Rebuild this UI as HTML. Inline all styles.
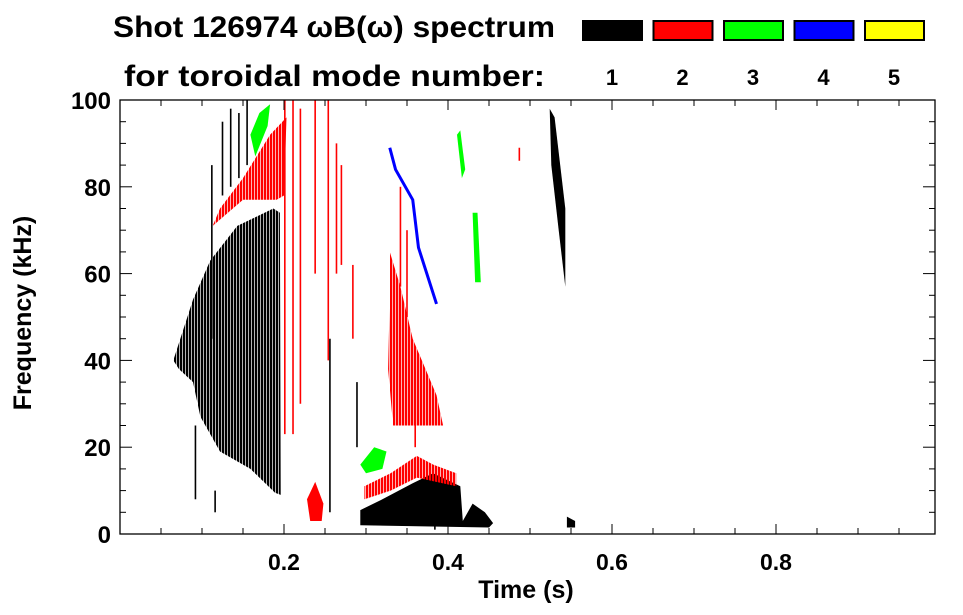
<!DOCTYPE html>
<html><head><meta charset="utf-8"><style>
body{margin:0;background:#fff;}
svg{display:block;font-family:"Liberation Sans",sans-serif;font-weight:bold;}
</style></head><body>
<svg id="chart" width="963" height="615" viewBox="0 0 963 615">
<defs>
<pattern id="pat0" width="3" height="10" patternUnits="userSpaceOnUse"><rect width="2.3" height="10" fill="#000"/></pattern>
<pattern id="pat1" width="3" height="10" patternUnits="userSpaceOnUse"><rect width="2.3" height="10" fill="#f00"/></pattern>
</defs>
<text x="113" y="37" font-size="30" textLength="442" lengthAdjust="spacingAndGlyphs">Shot 126974 ωB(ω) spectrum</text>
<text x="124" y="86" font-size="30" textLength="421" lengthAdjust="spacingAndGlyphs">for toroidal mode number:</text>
<g id="legend"></g>
<g id="marks"></g>
<g id="axes"></g>
</svg>
<script>
const modeLabels=["1","2","3","4","5"];
const modeColors=["#000","#f00","#0f0","#00f","#ff0"];
const xTicks=[0.2,0.4,0.6,0.8];
const yTicks=[0,20,40,60,80,100];
// blobs: mode and outline in [time s, freq kHz]
const blobModes=[0,1,1,0,1,1,2,2,2,2,0,0];
const blobOutlines=[
 [[0.065,40],[0.089,54],[0.11,63],[0.143,71],[0.187,75],[0.195,74],[0.196,9],[0.189,9.5],[0.159,15],[0.122,19],[0.098,27],[0.089,35],[0.072,38]],
 [[0.113,71],[0.15,77],[0.191,77],[0.2,78],[0.203,96],[0.183,92],[0.15,82],[0.122,75]],
 [[0.329,65],[0.342,57],[0.357,45],[0.386,32],[0.394,25],[0.333,25],[0.327,38],[0.329,55]],
 [[0.293,5.5],[0.32,8],[0.357,11.7],[0.382,14],[0.415,11],[0.418,3],[0.43,7],[0.445,5],[0.455,2.5],[0.45,1.5],[0.293,2]],
 [[0.298,11],[0.33,14],[0.362,18],[0.382,16],[0.41,14],[0.41,11],[0.362,13],[0.33,10],[0.298,8]],
 [[0.228,8],[0.238,12],[0.248,7],[0.246,3],[0.232,3]],
 [[0.159,92],[0.17,97],[0.183,99],[0.18,94],[0.165,87]],
 [[0.411,92],[0.415,93],[0.421,84],[0.417,82]],
 [[0.293,16],[0.31,20],[0.325,19],[0.32,15],[0.3,14]],
 [[0.43,74],[0.436,74],[0.44,58],[0.433,58]],
 [[0.524,98],[0.53,96],[0.543,75],[0.543,57],[0.535,70],[0.526,85]],
 [[0.545,4],[0.555,3],[0.555,1.5],[0.545,1.5]]
];
// vertical streaks: mode, time, low freq, high freq
const lineModes=[1,1,1,1,1,1,1,1,0,0,0,0,0,0,0,0,0,1,1,0,1,1];
const lineTimes=[0.201,0.211,0.22,0.238,0.254,0.264,0.27,0.284,0.256,0.289,0.092,0.112,0.116,0.125,0.135,0.145,0.155,0.342,0.35,0.384,0.487,0.36];
const lineLows=[23,23,30,60,40,60,62,45,5,20,8,45,5,78,80,82,85,57,50,1,86,20];
const lineHighs=[100,100,98,100,100,90,85,62,45,35,25,85,10,95,98,97,100,80,70,6,89,30];
// blue mode-4 chirp
const chirpT=[0.329,0.336,0.357,0.364,0.386];
const chirpF=[89,84,77,66,53];

const X0=120,X1=935,Y0=534,Y1=100;
const xs=t=>X0+t*820;
const ys=f=>Y0-(f/100)*(Y0-Y1);
const NS="http://www.w3.org/2000/svg";
function mk(tag,attrs,parent){const e=document.createElementNS(NS,tag);for(const k in attrs)e.setAttribute(k,attrs[k]);parent.appendChild(e);return e;}
const marks=document.getElementById('marks');
blobOutlines.forEach((pts,i)=>{
 const m=blobModes[i];
 const fill=m===0?(i===0?'url(#pat0)':'#000'):m===1?(i===5?'#f00':'url(#pat1)'):modeColors[m];
 const p=mk('polygon',{points:pts.map(q=>xs(q[0]).toFixed(1)+','+ys(q[1]).toFixed(1)).join(' '),fill:fill},marks);
 
 
});
lineTimes.forEach((t,i)=>{
 const l=mk('line',{x1:xs(t),x2:xs(t),y1:ys(lineLows[i]),y2:ys(lineHighs[i]),stroke:modeColors[lineModes[i]],'stroke-width':1.6},marks);
 
 
});
const ch=mk('polyline',{points:chirpT.map((t,i)=>xs(t)+','+ys(chirpF[i])).join(' '),fill:'none',stroke:'#00f','stroke-width':3},marks);



const ax=document.getElementById('axes');
const frame=mk('rect',{x:X0,y:Y1,width:X1-X0,height:Y0-Y1,fill:'none',stroke:'#000','stroke-width':1.3},ax);


for(let k=1;k<20;k++){const t=k*0.05;const x=xs(t);const len=(k%4===0)?10:6;
 mk('line',{x1:x,x2:x,y1:Y0,y2:Y0-len,stroke:'#000'},ax);
 mk('line',{x1:x,x2:x,y1:Y1,y2:Y1+len,stroke:'#000'},ax);}
for(let k=1;k<20;k++){const f=k*5;const y=ys(f);const len=(k%4===0)?12:6;
 mk('line',{x1:X0,x2:X0+len,y1:y,y2:y,stroke:'#000'},ax);
 mk('line',{x1:X1,x2:X1-len,y1:y,y2:y,stroke:'#000'},ax);}
xTicks.forEach(t=>{const e=mk('text',{x:xs(t),y:570,'font-size':23,'text-anchor':'middle'},ax);e.textContent=t.toFixed(1);
 
 });
yTicks.forEach(f=>{const e=mk('text',{x:111,y:ys(f)+9,'font-size':24,'text-anchor':'end'},ax);e.textContent=f;
 
 });
const xt=mk('text',{x:526,y:598,'font-size':25,'text-anchor':'middle'},ax);xt.textContent='Time (s)';


const yt=mk('text',{x:0,y:0,'font-size':25,'text-anchor':'middle',transform:'translate(31,313) rotate(-90)'},ax);yt.textContent='Frequency (kHz)';



const lg=document.getElementById('legend');
modeLabels.forEach((lab,i)=>{const x=582+i*70.5;
 const r=mk('rect',{x:x+1,y:21,width:59,height:19,fill:modeColors[i],stroke:'#000','stroke-width':2},lg);
 
 
 const t=mk('text',{x:x+30,y:85,'font-size':22,'text-anchor':'middle'},lg);t.textContent=lab;
 
 });
</script>
</body></html>
